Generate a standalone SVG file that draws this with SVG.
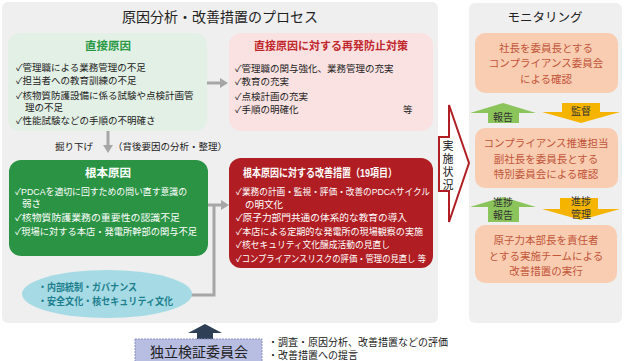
<svg xmlns="http://www.w3.org/2000/svg" width="624" height="361" viewBox="0 0 624 361">
<style>
text{font-family:"Liberation Sans","Noto Sans CJK JP",sans-serif;}
.t{font-size:9.5px;fill:#222;}
.w{font-size:9.5px;fill:#fff;}
.ttl{font-size:14px;fill:#222;text-anchor:middle;}
.hd{font-size:11.5px;font-weight:bold;text-anchor:middle;}
.or{font-size:10.5px;fill:#c2553a;text-anchor:middle;}
.ar{font-size:10px;fill:#333;text-anchor:middle;}
.vt{font-size:11px;fill:#222;writing-mode:vertical-rl;letter-spacing:2px;}
.conn{fill:none;stroke:#a6a6a6;stroke-width:3;}
</style>
<rect width="624" height="361" fill="#fff"/>
<g id="process-panel">
<rect x="2" y="2" width="436" height="321" rx="6" fill="#efefef"/>
<text class="ttl" x="220" y="22">原因分析・改善措置のプロセス</text>
</g>
<g id="monitoring-panel">
<rect x="469" y="3" width="153" height="320" rx="6" fill="#efefef"/>
<text class="ttl" x="545" y="22" style="font-size:12.5px">モニタリング</text>
</g>
<g id="connectors">
<line class="conn" x1="207" y1="83" x2="221" y2="83"/>
<polygon points="220,78 228,83 220,88" fill="#a6a6a6"/>
<line class="conn" x1="108" y1="131" x2="108" y2="146"/>
<polygon points="103,145 113,145 108,153" fill="#a6a6a6"/>
<polyline class="conn" points="190,295 214,295 214,205"/>
<line class="conn" x1="208" y1="205" x2="222" y2="205"/>
<polygon points="221,200 229,205 221,210" fill="#a6a6a6"/>
<polygon points="205,324 222,333 213,333 213,339 197,339 197,333 188,333" fill="#2f4056"/>
</g>
<text class="t" x="55" y="150">掘り下げ</text>
<text class="t" x="113" y="150">（背後要因の分析・整理）</text>
<g id="direct-cause">
<rect x="8" y="33" width="199" height="98" rx="12" fill="#e2f0e5"/>
<text class="hd" x="108" y="50" fill="#2a9a45">直接原因</text>
<text class="t" x="16" y="71">✓管理職による業務管理の不足</text>
<text class="t" x="16" y="84">✓担当者への教育訓練の不足</text>
<text class="t" x="16" y="99">✓核物質防護設備に係る試験や点検計画管</text>
<text class="t" x="25" y="111">理の不足</text>
<text class="t" x="16" y="124">✓性能試験などの手順の不明確さ</text>
</g>
<g id="direct-measures">
<rect x="229" y="33" width="204" height="98" rx="12" fill="#fbe2e2"/>
<text class="hd" x="331" y="50" fill="#c0282d" style="font-size:11px">直接原因に対する再発防止対策</text>
<text class="t" x="235" y="72">✓管理職の関与強化、業務管理の充実</text>
<text class="t" x="235" y="85">✓教育の充実</text>
<text class="t" x="235" y="100">✓点検計画の充実</text>
<text class="t" x="235" y="113">✓手順の明確化</text>
<text class="t" x="403" y="113">等</text>
</g>
<g id="root-cause">
<rect x="9" y="160" width="199" height="96" rx="12" fill="#2a9444"/>
<text class="hd" x="108" y="177" fill="#fff">根本原因</text>
<text class="w" x="15" y="195" textLength="172" lengthAdjust="spacingAndGlyphs">✓PDCAを適切に回すための問い直す意識の</text>
<text class="w" x="22" y="207">弱さ</text>
<text class="w" x="15" y="221" textLength="165" lengthAdjust="spacingAndGlyphs">✓核物質防護業務の重要性の認識不足</text>
<text class="w" x="15" y="235" textLength="182" lengthAdjust="spacingAndGlyphs">✓現場に対する本店・発電所幹部の関与不足</text>
</g>
<g id="root-measures">
<rect x="229" y="158" width="204" height="110" rx="12" fill="#b01e23"/>
<text class="hd" x="320" y="177" fill="#fff" style="font-size:11px" textLength="154" lengthAdjust="spacingAndGlyphs">根本原因に対する改善措置（19項目）</text>
<text class="w" x="236" y="195" textLength="194" lengthAdjust="spacingAndGlyphs">✓業務の計画・監視・評価・改善のPDCAサイクル</text>
<text class="w" x="245" y="208">の明文化</text>
<text class="w" x="236" y="221" textLength="171" lengthAdjust="spacingAndGlyphs">✓原子力部門共通の体系的な教育の導入</text>
<text class="w" x="236" y="235" textLength="187" lengthAdjust="spacingAndGlyphs">✓本店による定期的な発電所の現場観察の実施</text>
<text class="w" x="236" y="248" textLength="154" lengthAdjust="spacingAndGlyphs">✓核セキュリティ文化醸成活動の見直し</text>
<text class="w" x="236" y="262" textLength="190" lengthAdjust="spacingAndGlyphs">✓コンプライアンスリスクの評価・管理の見直し 等</text>
</g>
<g id="culture">
<ellipse cx="107" cy="294" rx="85" ry="24" fill="#a6dbe5"/>
<text x="38" y="291" textLength="99" lengthAdjust="spacingAndGlyphs" style="font-size:10px;font-weight:bold;fill:#1d7f8e">・内部統制・ガバナンス</text>
<text x="38" y="305" textLength="135" lengthAdjust="spacingAndGlyphs" style="font-size:10px;font-weight:bold;fill:#1d7f8e">・安全文化・核セキュリティ文化</text>
</g>
<g id="committee">
<rect x="135" y="339" width="127" height="24" fill="#b8bde2" stroke="#8a90c0" stroke-dasharray="2,1"/>
<text x="199" y="357" style="font-size:14px;fill:#222;text-anchor:middle">独立検証委員会</text>
<text class="t" x="268" y="346" style="font-size:10px">・調査・原因分析、改善措置などの評価</text>
<text class="t" x="268" y="359" style="font-size:10px">・改善措置への提言</text>
</g>
<g id="status-arrow">
<path d="M439,137 L449,137 L449,105 L469,163 L449,222 L449,191 L439,191 Z" fill="#fff" stroke="#b01e23" stroke-width="2"/>
<text class="vt" x="447" y="140">実施状況</text>
</g>
<g id="compliance-committee">
<rect x="475" y="33" width="143" height="60" rx="10" fill="#f9cdb2"/>
<text class="or" x="546" y="52">社長を委員長とする</text>
<text class="or" x="546" y="67">コンプライアンス委員会</text>
<text class="or" x="546" y="83">による確認</text>
</g>
<g id="arrows-1">
<polygon points="503,103 536,113 519,113 519,123 488,123 488,113 470,113" fill="#8bc45a"/>
<text class="ar" x="503" y="121">報告</text>
<polygon points="562,103 600,103 600,112 620,112 581,123 542,112 562,112" fill="#f5b400"/>
<text class="ar" x="581" y="115">監督</text>
</g>
<g id="special-committee">
<rect x="475" y="128" width="143" height="60" rx="10" fill="#f9cdb2"/>
<text class="or" x="546" y="147">コンプライアンス推進担当</text>
<text class="or" x="546" y="163">副社長を委員長とする</text>
<text class="or" x="546" y="178">特別委員会による確認</text>
</g>
<g id="arrows-2">
<polygon points="503,197 536,207 519,207 519,222 488,222 488,207 470,207" fill="#8bc45a"/>
<text class="ar" x="503" y="206">進捗</text>
<text class="ar" x="503" y="219">報告</text>
<polygon points="560,198 598,198 598,209 620,209 581,220 542,209 560,209" fill="#f5b400"/>
<text class="ar" x="581" y="205">進捗</text>
<text class="ar" x="581" y="218">管理</text>
</g>
<g id="implementation-team">
<rect x="475" y="225" width="142" height="58" rx="10" fill="#f9cdb2"/>
<text class="or" x="546" y="244">原子力本部長を責任者</text>
<text class="or" x="546" y="260">とする実施チームによる</text>
<text class="or" x="546" y="275">改善措置の実行</text>
</g>
</svg>
